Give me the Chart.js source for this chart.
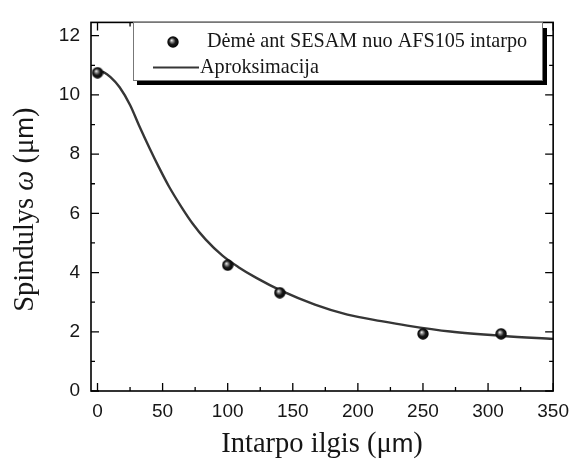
<!DOCTYPE html>
<html lang="lt">
<head>
<meta charset="UTF-8">
<title>Spindulys nuo intarpo ilgio</title>
<script src="https://cdn.jsdelivr.net/npm/chart.js"></script>
<style>
    html, body { margin: 0; padding: 0; background: #fff; }
    #wrap { width: 578px; height: 459px; }
</style>
</head>
<body>
<div id="wrap"><canvas id="grafikas"></canvas></div>

<script>
    // išmatuoti dėmės spinduliai (µm) ties intarpo ilgiais (µm)
    var ilgiai = [0, 100, 140, 250, 310];
    var spinduliai = [10.75, 4.25, 3.32, 1.93, 1.93];

    // aproksimacijos kreivės taškai
    var kreiveX = [0, 5, 10, 17, 25, 32, 40, 47, 55, 65, 73, 83, 96, 108, 122, 141, 167, 192, 218, 238, 271, 312, 350];
    var kreiveY = [10.8, 10.76, 10.6, 10.26, 9.66, 8.96, 8.2, 7.57, 6.9, 6.18, 5.66, 5.12, 4.57, 4.19, 3.82, 3.39, 2.92, 2.58, 2.36, 2.21, 2.01, 1.86, 1.76];

    var xTicks = [0, 50, 100, 150, 200, 250, 300, 350];
    var xMinor = [25, 75, 125, 175, 225, 275, 325];
    var yTicks = [0, 2, 4, 6, 8, 10, 12];
    var yMinor = [1, 3, 5, 7, 9, 11];

    var serif = "'Liberation Serif', 'Times New Roman', serif";
    var sans = "'Liberation Sans', Arial, sans-serif";
    var tekstoSpalva = '#161616';

    // juodas rutuliukas su blizgesiu - taškų žymeklis
    function rutulys(r) {
        var c = document.createElement('canvas');
        c.width = r * 2;
        c.height = r * 2;
        var g = c.getContext('2d');
        var grad = g.createRadialGradient(r * 0.75, r * 0.7, 0, r, r, r);
        grad.addColorStop(0, '#ffffff');
        grad.addColorStop(0.22, '#9a9a9a');
        grad.addColorStop(0.55, '#1a1a1a');
        grad.addColorStop(1, '#000000');
        g.fillStyle = grad;
        g.beginPath();
        g.arc(r, r, r - 0.3, 0, Math.PI * 2);
        g.fill();
        return c;
    }
    var zymeklis = rutulys(6);

    var taskai = ilgiai.map(function (x, i) { return { x: x, y: spinduliai[i] }; });
    var kreive = kreiveX.map(function (x, i) { return { x: x, y: kreiveY[i] }; });

    // tekstas iš kelių dalių su skirtingais šriftais, centruotas ties x
    function rasykDalis(ctx, dalys, x, y) {
        var plotis = 0;
        dalys.forEach(function (d) { ctx.font = d[1]; plotis += ctx.measureText(d[0]).width; });
        var cx = x - plotis / 2;
        ctx.textAlign = 'left';
        dalys.forEach(function (d) {
            ctx.font = d[1];
            ctx.fillText(d[0], cx, y);
            cx += ctx.measureText(d[0]).width;
        });
    }

    var remelis = {
        id: 'remelis',
        afterDraw: function (chart) {
            var ctx = chart.ctx;
            var a = chart.chartArea;
            var sx = chart.scales.x;
            var sy = chart.scales.y;

            ctx.save();
            ctx.strokeStyle = '#000';

            // rėmelis
            ctx.lineWidth = 1.6;
            ctx.strokeRect(a.left, a.top, a.right - a.left, a.bottom - a.top);

            // padalos į vidų, visose keturiose pusėse
            ctx.lineWidth = 1.3;
            ctx.beginPath();
            function xPadala(v, ilgis) {
                var px = sx.getPixelForValue(v);
                ctx.moveTo(px, a.bottom); ctx.lineTo(px, a.bottom - ilgis);
                ctx.moveTo(px, a.top); ctx.lineTo(px, a.top + ilgis);
            }
            function yPadala(v, ilgis) {
                var py = sy.getPixelForValue(v);
                ctx.moveTo(a.left, py); ctx.lineTo(a.left + ilgis, py);
                ctx.moveTo(a.right, py); ctx.lineTo(a.right - ilgis, py);
            }
            xTicks.forEach(function (v) { xPadala(v, 8); });
            xMinor.forEach(function (v) { xPadala(v, 4); });
            yTicks.forEach(function (v) { yPadala(v, 8); });
            yMinor.forEach(function (v) { yPadala(v, 4); });
            ctx.stroke();

            // legenda su šešėliu
            var lx = 133, ly = 22, lw = 409, lh = 58;
            ctx.fillStyle = '#000';
            ctx.fillRect(lx + 4, ly + lh, lw + 1, 5);
            ctx.fillRect(lx + lw, ly + 6, 5, lh - 1);
            ctx.fillStyle = '#fff';
            ctx.fillRect(lx, ly, lw, lh);
            ctx.strokeStyle = '#777';
            ctx.lineWidth = 1;
            ctx.strokeRect(lx + 0.5, ly + 0.5, lw, lh);

            var d0 = chart.data.datasets[0];
            var d1 = chart.data.datasets[1];
            ctx.drawImage(zymeklis, 173 - 6, 42 - 6);
            ctx.strokeStyle = d1.borderColor;
            ctx.lineWidth = 2;
            ctx.beginPath();
            ctx.moveTo(153, 67.5);
            ctx.lineTo(199, 67.5);
            ctx.stroke();

            ctx.fillStyle = tekstoSpalva;
            ctx.textBaseline = 'alphabetic';
            ctx.textAlign = 'left';
            ctx.font = '20.2px ' + serif;
            ctx.fillText(d0.label, 207, 47);
            ctx.fillText(d1.label, 200, 72.5);

            // ašių pavadinimai
            var tf = '28.5px ' + serif;
            var mf = '26px ' + sans;
            rasykDalis(ctx, [['Intarpo ilgis (\u03bc', tf], ['m', mf], [')', tf]],
                (a.left + a.right) / 2, 452);

            ctx.save();
            ctx.translate(33, (a.top + a.bottom) / 2 + 3);
            ctx.rotate(-Math.PI / 2);
            rasykDalis(ctx, [['Spindulys ', tf], ['\u03c9', 'italic ' + tf], [' (\u03bc', tf], ['m', mf], [')', tf]], 0, 0);
            ctx.restore();

            ctx.restore();
        }
    };

    new Chart(document.getElementById('grafikas'), {
        type: 'scatter',
        data: {
            datasets: [{
                label: 'Dėmė ant SESAM nuo AFS105 intarpo',
                data: taskai,
                pointStyle: zymeklis,
                pointRadius: 6,
                showLine: false
            }, {
                label: 'Aproksimacija',
                data: kreive,
                showLine: true,
                borderColor: '#363636',
                borderWidth: 2.4,
                pointRadius: 0,
                cubicInterpolationMode: 'monotone'
            }]
        },
        options: {
            responsive: true,
            maintainAspectRatio: false,
            animation: false,
            layout: { padding: { top: 12, right: 20, left: 0, bottom: 0 } },
            plugins: {
                legend: { display: false },
                tooltip: { enabled: false }
            },
            scales: {
                x: {
                    type: 'linear',
                    min: -5,
                    max: 350,
                    afterBuildTicks: function (s) { s.ticks = xTicks.map(function (v) { return { value: v }; }); },
                    afterFit: function (s) { s.height = 68; },
                    grid: { drawOnChartArea: false, drawTicks: false },
                    border: { display: false },
                    ticks: { padding: 9, color: tekstoSpalva, font: { family: sans, size: 19 } }
                },
                y: {
                    min: 0,
                    max: 12.45,
                    afterBuildTicks: function (s) { s.ticks = yTicks.map(function (v) { return { value: v }; }); },
                    afterFit: function (s) { s.width = 91; },
                    grid: { drawOnChartArea: false, drawTicks: false },
                    border: { display: false },
                    ticks: { padding: 11, color: tekstoSpalva, font: { family: sans, size: 19 } }
                }
            }
        },
        plugins: [remelis]
    });
</script>
</body>
</html>
